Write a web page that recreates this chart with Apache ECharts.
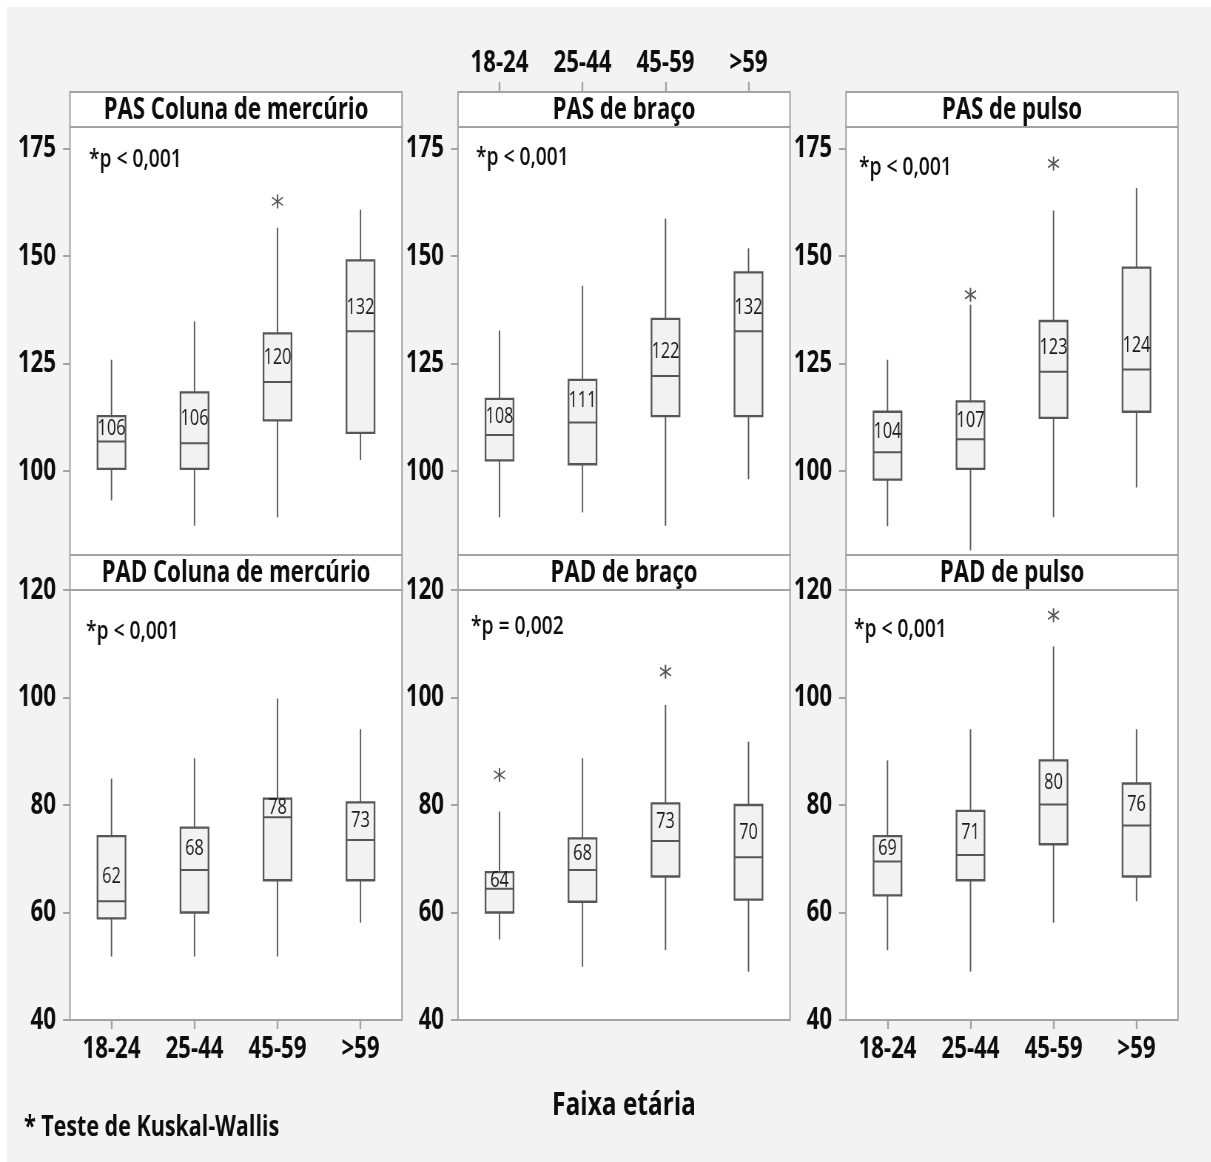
<!DOCTYPE html>
<html><head><meta charset="utf-8">
<script src="https://cdn.jsdelivr.net/npm/echarts@6/dist/echarts.min.js"></script>
<style>
html,body{margin:0;padding:0;background:#fff;overflow:hidden;width:1211px;height:1162px;}
#c{position:absolute;left:0;top:0;height:1162px;transform-origin:0 0;}
</style>
</head><body><div id="c"></div>
<script>
// ---------- data ----------
const categories = ['18-24', '25-44', '45-59', '>59'];
// each box: [lower whisker, Q1, median, Q3, upper whisker]
const pasColuna = [[93.2,100.5,106.9,112.8,125.9],[87.3,100.5,106.5,118.3,134.8],[89.3,111.8,120.7,132.0,156.6],[102.6,108.9,132.5,149.0,160.8]];
const pasBraco  = [[89.3,102.5,108.4,116.8,132.7],[90.4,101.6,111.3,121.2,143.1],[87.3,112.8,122.1,135.4,158.7],[98.1,112.8,132.5,146.2,151.8]];
const pasPulso  = [[87.2,98.0,104.4,113.8,125.9],[81.6,100.5,107.4,116.2,138.7],[89.3,112.4,123.1,134.9,160.6],[96.2,113.8,123.6,147.3,165.8]];
const padColuna = [[51.8,58.9,62.1,74.2,84.9],[51.8,60.0,67.9,75.8,88.7],[51.8,66.0,77.7,81.2,99.8],[58.1,66.0,73.5,80.5,94.1]];
const padBraco  = [[55.0,60.0,64.4,67.5,78.8],[49.9,62.0,67.9,73.8,88.7],[53.0,66.7,73.3,80.3,98.6],[49.0,62.4,70.3,80.0,91.8]];
const padPulso  = [[53.0,63.2,69.5,74.2,88.3],[49.0,66.0,70.7,78.9,94.1],[58.1,72.7,80.1,88.3,109.5],[62.1,66.7,76.2,84.0,94.1]];
// median labels as printed
const pasColunaLabels = ['106','106','120','132'];
const pasBracoLabels  = ['108','111','122','132'];
const pasPulsoLabels  = ['104','107','123','124'];
const padColunaLabels = ['62','68','78','73'];
const padBracoLabels  = ['64','68','73','70'];
const padPulsoLabels  = ['69','71','80','76'];
// outliers: [category index, value]
const pasColunaOut = [[2,162.7]];
const pasBracoOut  = [];
const pasPulsoOut  = [[1,141.0],[2,171.5]];
const padColunaOut = [];
const padBracoOut  = [[0,85.6],[2,104.8]];
const padPulsoOut  = [[2,115.3]];
const panelTitles = ['PAS Coluna de mercúrio','PAS de braço','PAS de pulso','PAD Coluna de mercúrio','PAD de braço','PAD de pulso'];
const pTexts = ['*p < 0,001','*p < 0,001','*p < 0,001','*p < 0,001','*p = 0,002','*p < 0,001'];
const pasTicks = [100, 125, 150, 175];
const padTicks = [40, 60, 80, 100, 120];
const xTitle = 'Faixa etária';
const footnote = '* Teste de Kuskal-Wallis';

// ---------- layout / style ----------
// the reference lettering is horizontally condensed: draw on a wider canvas and squeeze it
const S = 0.74;
const X = v => v / S;
const dom = document.getElementById('c');
dom.style.width = (1211 / S) + 'px';
dom.style.transform = 'scaleX(' + S + ')';

const FONT = "'Open Sans','Noto Sans',sans-serif";
const AX = '#a3a3a3', BOXC = '#575757', TXT = '#0d0d0d';
const lefts = [70, 458, 846], W = 332;
const tops = [127, 590], Hs = [428, 430], HEAD = 35;
const panels = [
  {box: pasColuna, lab: pasColunaLabels, out: pasColunaOut},
  {box: pasBraco,  lab: pasBracoLabels,  out: pasBracoOut},
  {box: pasPulso,  lab: pasPulsoLabels,  out: pasPulsoOut},
  {box: padColuna, lab: padColunaLabels, out: padColunaOut},
  {box: padBraco,  lab: padBracoLabels,  out: padBracoOut},
  {box: padPulso,  lab: padPulsoLabels,  out: padPulsoOut}
];
const pPos = [[89,160],[476,158],[859,168],[86,632],[471,627],[854,630]];
const axisFont = {fontSize: 30, fontWeight: 'bold', color: TXT, fontFamily: FONT};

const grid = [], xAxis = [], yAxis = [], series = [], graphic = [];
graphic.push({type:'rect', z:-100, shape:{x:0,y:0,width:X(1211),height:7}, style:{fill:'#fff'}, silent:true});
graphic.push({type:'rect', z:-100, shape:{x:0,y:0,width:X(7),height:1162}, style:{fill:'#fff'}, silent:true});

panels.forEach((p, i) => {
  const row = Math.floor(i / 3), col = i % 3;
  grid.push({left: X(lefts[col]), top: tops[row], width: X(W), height: Hs[row], show: true,
    backgroundColor: '#fff', borderColor: AX, borderWidth: 2});
  const showBottom = (row === 1 && col !== 1);
  xAxis.push({gridIndex: i, type: 'category', data: categories, boundaryGap: true,
    axisLine: {show: false}, splitLine: {show: false},
    axisTick: {show: showBottom, alignWithLabel: true, length: 9, lineStyle: {color: AX, width: 2.4}},
    axisLabel: Object.assign({show: showBottom, interval: 0, margin: 14}, axisFont)});
  const ticks = row === 0 ? pasTicks : padTicks;
  yAxis.push({gridIndex: i, type: 'value', min: row === 0 ? 80.5 : 40, max: row === 0 ? 180 : 120,
    axisLine: {show: false}, splitLine: {show: false},
    axisTick: {show: true, length: X(7), customValues: ticks, lineStyle: {color: AX, width: 2}},
    axisLabel: Object.assign({customValues: ticks, margin: X(14)}, axisFont)});
  // header strip with the panel title
  graphic.push({type:'rect', shape:{x: X(lefts[col]), y: tops[row]-HEAD, width: X(W), height: HEAD},
    style:{fill:'#fff', stroke: AX, lineWidth: 2}, z: 5});
  graphic.push({type:'text', x: X(lefts[col] + W/2), y: tops[row] - HEAD/2 + 1, z: 6,
    style:{text: panelTitles[i], fill: TXT, font: 'bold 30px ' + FONT, textAlign:'center', textVerticalAlign:'middle'}});
  graphic.push({type:'text', x: X(pPos[i][0]), y: pPos[i][1], z: 6,
    style:{text: pTexts[i], fill: TXT, font: '600 26px ' + FONT, textAlign:'left', textVerticalAlign:'middle'}});

  const labels = p.lab;
  series.push({type: 'custom', xAxisIndex: i, yAxisIndex: i,
    data: p.box.map((b, k) => [k].concat(b)),
    renderItem: function (params, api) {
      const x = api.value(0);
      const lo = api.coord([x, api.value(1)]), q1 = api.coord([x, api.value(2)]),
            md = api.coord([x, api.value(3)]), q3 = api.coord([x, api.value(4)]),
            hi = api.coord([x, api.value(5)]);
      const cx = lo[0], hw = X(14);
      const ly = Math.max((q3[1] + md[1]) / 2, md[1] - 24);
      const ls = {stroke: BOXC, lineWidth: X(1.4)};
      return {type: 'group', children: [
        {type:'line', shape:{x1:cx, y1:hi[1], x2:cx, y2:q3[1]}, style: ls},
        {type:'line', shape:{x1:cx, y1:q1[1], x2:cx, y2:lo[1]}, style: ls},
        {type:'rect', shape:{x: cx-hw, y: q3[1], width: 2*hw, height: q1[1]-q3[1]},
          style:{fill:'#f2f2f2', stroke: BOXC, lineWidth: 2.3}},
        {type:'line', shape:{x1:cx-hw, y1:md[1], x2:cx+hw, y2:md[1]}, style:{stroke: BOXC, lineWidth: 2}},
        {type:'text', x: cx, y: ly, style:{text: labels[params.dataIndex], fill:'#1a1a1a',
          font: '22px ' + FONT, textAlign:'center', textVerticalAlign:'middle'}}
      ]};
    }
  });
  if (p.out.length) {
    series.push({type: 'custom', xAxisIndex: i, yAxisIndex: i, data: p.out,
      renderItem: function (params, api) {
        const c = api.coord([api.value(0), api.value(1)]);
        const cx = c[0], cy = c[1], dx = X(5.5);
        const st = {stroke: '#555', lineWidth: 1.6};
        return {type:'group', children:[
          {type:'line', shape:{x1:cx, y1:cy-7, x2:cx, y2:cy+7}, style: {stroke:'#555', lineWidth: X(1.5)}},
          {type:'line', shape:{x1:cx-dx, y1:cy-4, x2:cx+dx, y2:cy+4}, style: st},
          {type:'line', shape:{x1:cx-dx, y1:cy+4, x2:cx+dx, y2:cy-4}, style: st}
        ]};
      }
    });
  }
});
// category axis above the middle upper panel
xAxis.push({gridIndex: 1, type: 'category', data: categories, position: 'top', offset: HEAD, boundaryGap: true,
  axisLine: {show: false},
  axisTick: {show: true, alignWithLabel: true, length: 10, lineStyle: {color: AX, width: 2.4}},
  axisLabel: Object.assign({interval: 0, margin: 14}, axisFont)});

graphic.push({type:'text', x: X(624), y: 1106, style:{text: xTitle, fill: TXT, font: 'bold 33px ' + FONT, textAlign:'center', textVerticalAlign:'middle'}});
graphic.push({type:'text', x: X(24), y: 1128, style:{text: footnote, fill: TXT, font: 'bold 29px ' + FONT, textAlign:'left', textVerticalAlign:'middle'}});

const chart = echarts.init(dom, null, {renderer: 'canvas', width: 1211 / S, height: 1162});
chart.setOption({backgroundColor: '#f3f3f3', animation: false, grid, xAxis, yAxis, series, graphic});
</script></body></html>
